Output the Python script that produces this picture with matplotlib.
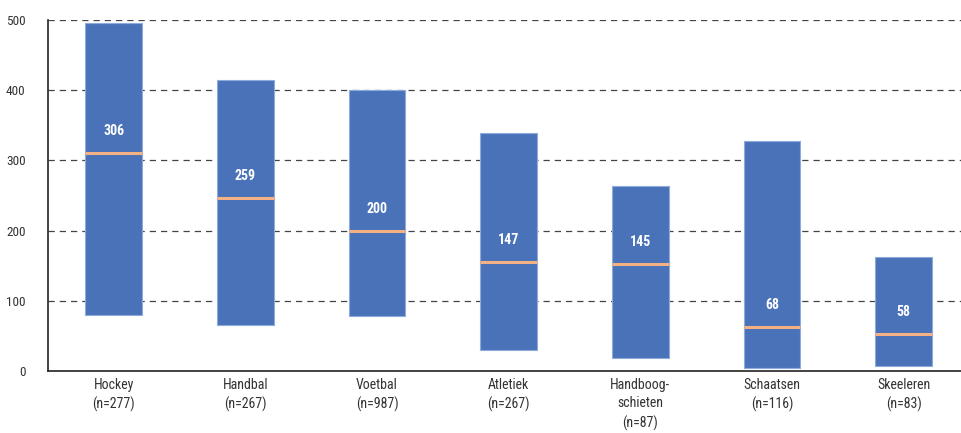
import matplotlib
matplotlib.use("Agg")
import matplotlib.pyplot as plt
from matplotlib import font_manager

# data
sports = ["Hockey\n(n=277)", "Handbal\n(n=267)", "Voetbal\n(n=987)", "Atletiek\n(n=267)",
          "Handboog-\nschieten\n(n=87)", "Schaatsen\n(n=116)", "Skeeleren\n(n=83)"]
low = [80, 65, 78, 30, 19, 4, 7]
high = [495, 414, 400, 339, 264, 328, 162]
median_line = [310, 246, 199, 155, 152, 63, 53]
median_label = ["306", "259", "200", "147", "145", "68", "58"]
yticks = [0, 100, 200, 300, 400, 500]

BLUE = "#4A72B8"; EDGE = "#8FAADC"; ORANGE = "#F4B183"; INK = "#333333"

names = {f.name for f in font_manager.fontManager.ttflist}
FAM = [f for f in ["Roboto Condensed", "Liberation Sans Narrow", "DejaVu Sans"] if f in names] or ["DejaVu Sans"]
plt.rcParams["font.family"] = FAM + ["DejaVu Sans"]

fig = plt.figure(figsize=(9.62, 4.33), dpi=100)
ax = fig.add_axes([0.0498, 0.143, 0.958, 0.811])

xs = list(range(len(sports)))
heights = [h - l for h, l in zip(high, low)]
ax.bar(xs, heights, bottom=low, width=0.43, color=BLUE, edgecolor=EDGE, lw=0.8, zorder=3)
for x, m, lab in zip(xs, median_line, median_label):
    ax.hlines(m, x - 0.215, x + 0.215, color=ORANGE, lw=2.2, zorder=4)
    ax.annotate(lab, (x, m), xytext=(0, 16), textcoords="offset points", ha="center", va="center",
                color="white", fontsize=10, fontweight="bold", zorder=5)

ax.set_xlim(-0.5, len(sports) - 0.5)
ax.set_ylim(0, 500)
ax.set_yticks(yticks)
ax.set_yticklabels([str(t) for t in yticks], fontsize=9.5, color=INK)
ax.set_xticks(xs)
ax.set_xticklabels(sports, fontsize=10, color=INK, linespacing=1.4)
ax.tick_params(length=0)
ax.tick_params(axis="y", pad=16)
ax.tick_params(axis="x", pad=5)
for y in yticks[1:]:
    ax.axhline(y, color="#444444", lw=0.9, ls=(0, (5, 4)), zorder=1)
for s in ("top", "right"):
    ax.spines[s].set_visible(False)
for s in ("left", "bottom"):
    ax.spines[s].set_color("#222222")
    ax.spines[s].set_linewidth(1.2)

fig.savefig("out.png", dpi=100)
